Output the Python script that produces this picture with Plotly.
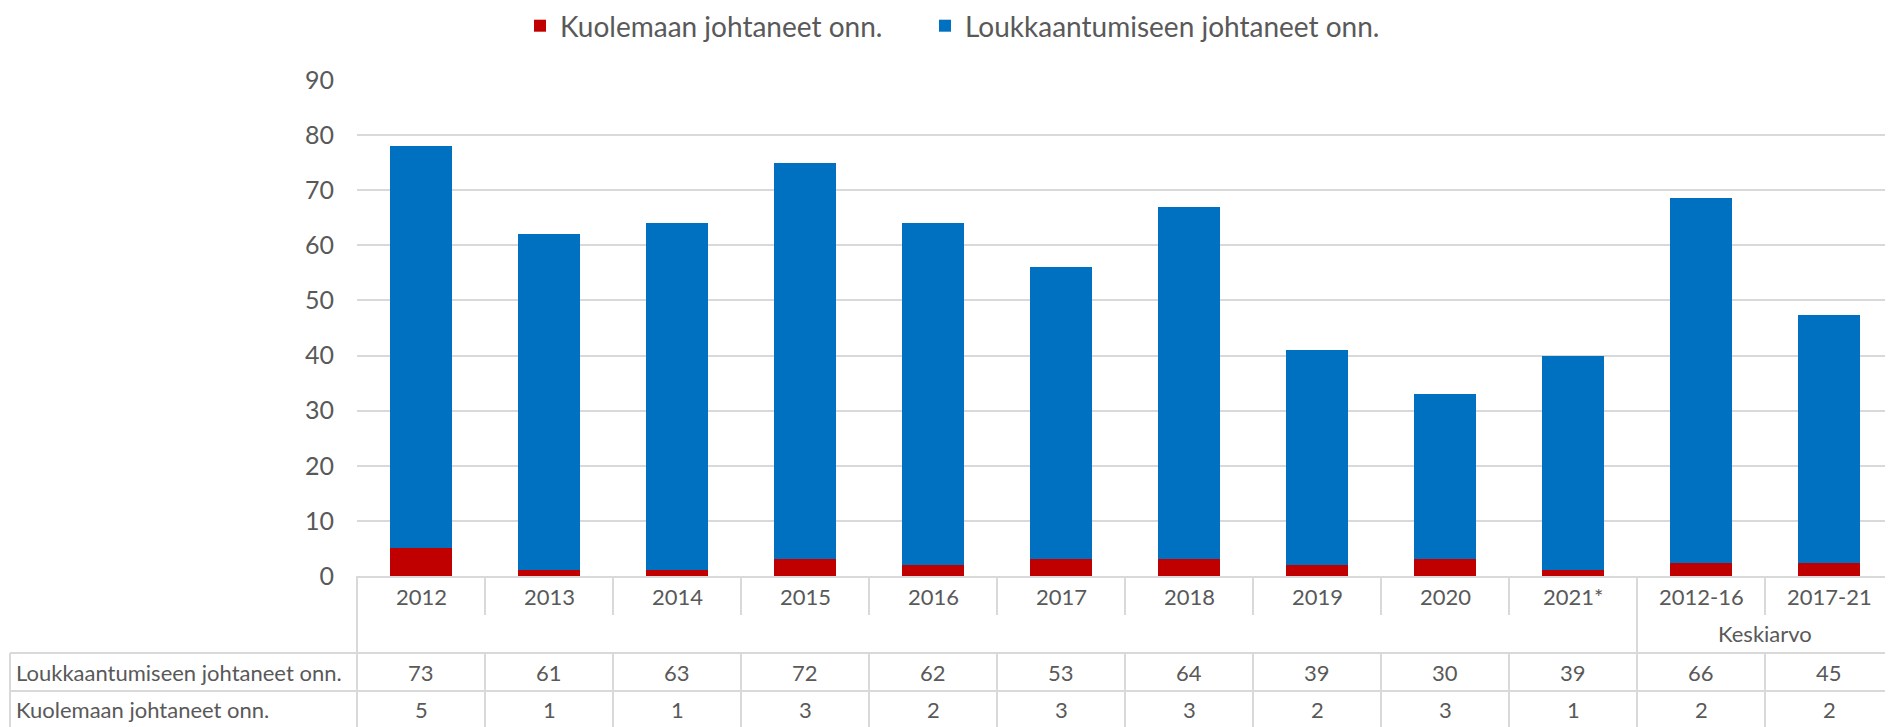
import plotly.graph_objects as go

categories = ["2012", "2013", "2014", "2015", "2016", "2017", "2018", "2019", "2020", "2021*", "2012-16", "2017-21"]
injury = [73, 61, 63, 72, 62, 53, 64, 39, 30, 39, 66.2, 45.0]
death = [5, 1, 1, 3, 2, 3, 3, 2, 3, 1, 2.4, 2.4]
injury_name = "Loukkaantumiseen johtaneet onn."
death_name = "Kuolemaan johtaneet onn."
avg_label = "Keskiarvo"
y_ticks = [0, 10, 20, 30, 40, 50, 60, 70, 80, 90]

RED = "#C00000"
BLUE = "#0070C0"
TXT = "#595959"
GRID = "#D9D9D9"
FONT = "Lato"

OFF = 8  # default page body margin
W, H = 1893 - OFF, 727 - OFF
L, R, T = 357 - OFF, 0, 80 - OFF
B = H - (576 - OFF)
plot_h = H - T - B
plot_w = W - L - R


def py(page_y):
    return (576 - page_y) / plot_h


def px(page_x):
    return (page_x - 357) / plot_w


def cx(page_x):
    return (page_x - OFF) / W


def cy(page_y):
    return 1 - (page_y - OFF) / H


fig = go.Figure()
fig.add_trace(go.Bar(x=categories, y=death, name=death_name, legend="legend",
                     marker=dict(color=RED, line=dict(width=0))))
fig.add_trace(go.Bar(x=categories, y=injury, name=injury_name, legend="legend2",
                     marker=dict(color=BLUE, line=dict(width=0))))

n = len(categories)
shapes = []
line_style = dict(color=GRID, width=2)
for i in range(1, n):
    xb = i - 0.5
    shapes.append(dict(type="line", xref="x", yref="paper", x0=xb, x1=xb, y0=py(576), y1=py(615), line=line_style))
    shapes.append(dict(type="line", xref="x", yref="paper", x0=xb, x1=xb, y0=py(653), y1=py(727), line=line_style))
shapes.append(dict(type="line", xref="x", yref="paper", x0=9.5, x1=9.5, y0=py(576), y1=py(727), line=line_style))
shapes.append(dict(type="line", xref="x domain", yref="paper", x0=0, x1=0, y0=py(576), y1=py(727), line=line_style))
shapes.append(dict(type="line", xref="x domain", yref="paper", x0=px(10), x1=px(10), y0=py(653), y1=py(727), line=line_style))
for yy in (653, 691):
    shapes.append(dict(type="line", xref="x domain", yref="paper", x0=px(10), x1=1, y0=py(yy), y1=py(yy), line=line_style))

annotations = []
tf = dict(family=FONT, size=22, color=TXT)
for i, c in enumerate(categories):
    annotations.append(dict(x=i, xref="x", y=py(596), yref="paper", text=c, showarrow=False, font=tf, xanchor="center", yanchor="middle"))
    annotations.append(dict(x=i, xref="x", y=py(672), yref="paper", text=f"{injury[i]:.0f}", showarrow=False, font=tf, xanchor="center", yanchor="middle"))
    annotations.append(dict(x=i, xref="x", y=py(710), yref="paper", text=f"{death[i]:.0f}", showarrow=False, font=tf, xanchor="center", yanchor="middle"))
annotations.append(dict(x=10.5, xref="x", y=py(633), yref="paper", text=avg_label, showarrow=False, font=tf, xanchor="center", yanchor="middle"))
annotations.append(dict(x=px(14), xref="x domain", y=py(672), yref="paper", text=injury_name, showarrow=False, font=tf, xanchor="left", yanchor="middle"))
annotations.append(dict(x=px(14), xref="x domain", y=py(710), yref="paper", text=death_name, showarrow=False, font=tf, xanchor="left", yanchor="middle"))

leg_common = dict(orientation="h", xref="container", yref="container", xanchor="left", yanchor="middle",
                  font=dict(family=FONT, size=28, color=TXT), bgcolor="rgba(0,0,0,0)")

fig.update_layout(
    width=W, height=H,
    margin=dict(l=L, r=R, t=T, b=B, pad=0, autoexpand=False),
    paper_bgcolor="white", plot_bgcolor="white",
    barmode="stack", bargap=0.52,
    font=dict(family=FONT, color=TXT),
    showlegend=True,
    legend=dict(x=cx(560 - 40), y=cy(26), **leg_common),
    legend2=dict(x=cx(965 - 40), y=cy(26), **leg_common),
    xaxis=dict(type="category", range=[-0.5, n - 0.5], showticklabels=False, showgrid=False,
               showline=True, linecolor=GRID, linewidth=2, ticks="", zeroline=False, fixedrange=True),
    yaxis=dict(range=[0, 90], tickvals=y_ticks, showgrid=True, gridcolor=GRID, gridwidth=2,
               zeroline=False, showline=False, ticks="", ticklabelstandoff=22,
               tickfont=dict(family=FONT, size=25, color=TXT), fixedrange=True),
    shapes=shapes, annotations=annotations,
)

fig.write_html("out.html")
